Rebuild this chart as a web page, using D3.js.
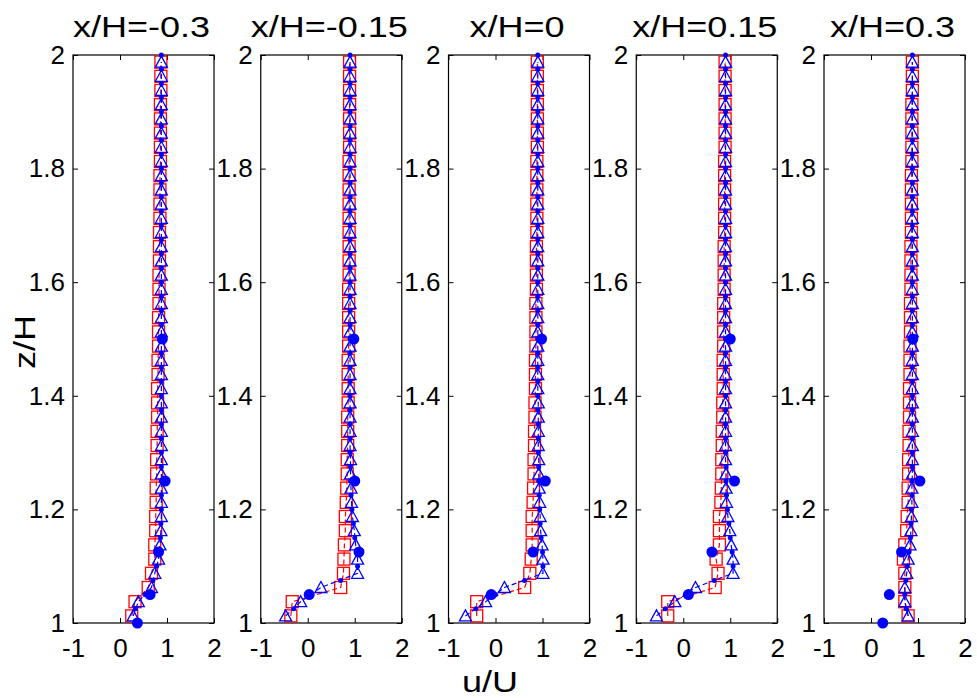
<!DOCTYPE html>
<html>
<head>
<meta charset="utf-8">
<script src="https://cdn.jsdelivr.net/npm/d3@7"></script>
<style>
  body { margin: 0; background: #fff; }
  svg { display: block; font-family: "Liberation Sans", Arial, sans-serif; }
</style>
</head>
<body>
<svg id="chart" width="977" height="698"></svg>
<script>
// panel titles
const titles = ["x/H=-0.3", "x/H=-0.15", "x/H=0", "x/H=0.15", "x/H=0.3"];

// z levels of the simulated profiles (squares / triangles)
const zSim = [1.0125, 1.0375, 1.0625, 1.0875, 1.1125, 1.1375, 1.1625, 1.1875, 1.2125, 1.2375,
              1.2625, 1.2875, 1.3125, 1.3375, 1.3625, 1.3875, 1.4125, 1.4375, 1.4625, 1.4875,
              1.5125, 1.5375, 1.5625, 1.5875, 1.6125, 1.6375, 1.6625, 1.6875, 1.7125, 1.7375,
              1.7625, 1.7875, 1.8125, 1.8375, 1.8625, 1.8875, 1.9125, 1.9375, 1.9625, 1.9875];
// z levels of the fine (dot) profile
const zFine = [1.025, 1.05, 1.075, 1.1, 1.125, 1.15, 1.175, 1.2, 1.225, 1.25,
               1.275, 1.3, 1.325, 1.35, 1.375, 1.4, 1.425, 1.45, 1.475, 1.5,
               1.525, 1.55, 1.575, 1.6, 1.625, 1.65, 1.675, 1.7, 1.725, 1.75,
               1.775, 1.8, 1.825, 1.85, 1.875, 1.9, 1.925, 1.95, 1.975, 2.0];
// z levels of the measurements (filled circles)
const zExp = [1.0, 1.05, 1.125, 1.25, 1.5];

// red squares, u/U
const sqM030 = [0.25, 0.32, 0.60, 0.67, 0.74, 0.74, 0.76, 0.76, 0.77, 0.77,
                0.78, 0.78, 0.79, 0.79, 0.80, 0.80, 0.80, 0.81, 0.81, 0.82,
                0.82, 0.82, 0.83, 0.83, 0.83, 0.84, 0.84, 0.84, 0.85, 0.85,
                0.85, 0.85, 0.86, 0.86, 0.86, 0.86, 0.86, 0.87, 0.87, 0.87];
const sqM015 = [-0.36, -0.33, 0.70, 0.76, 0.77, 0.78, 0.80, 0.80, 0.82, 0.83,
                0.84, 0.84, 0.85, 0.85, 0.85, 0.86, 0.86, 0.86, 0.86, 0.87,
                0.87, 0.87, 0.87, 0.87, 0.88, 0.88, 0.88, 0.88, 0.88, 0.88,
                0.88, 0.88, 0.88, 0.89, 0.89, 0.89, 0.89, 0.89, 0.89, 0.89];
const sqP000 = [-0.40, -0.40, 0.62, 0.73, 0.76, 0.78, 0.78, 0.78, 0.80, 0.81,
                0.82, 0.82, 0.83, 0.83, 0.84, 0.84, 0.85, 0.85, 0.85, 0.86,
                0.86, 0.86, 0.86, 0.87, 0.87, 0.87, 0.87, 0.88, 0.88, 0.88,
                0.88, 0.88, 0.88, 0.89, 0.89, 0.89, 0.89, 0.89, 0.89, 0.89];
const sqP015 = [-0.33, -0.33, 0.68, 0.74, 0.70, 0.77, 0.77, 0.77, 0.80, 0.81,
                0.82, 0.82, 0.83, 0.83, 0.84, 0.84, 0.85, 0.85, 0.85, 0.86,
                0.86, 0.86, 0.86, 0.87, 0.87, 0.87, 0.87, 0.88, 0.88, 0.88,
                0.88, 0.88, 0.88, 0.89, 0.89, 0.89, 0.89, 0.89, 0.89, 0.89];
const sqP030 = [0.79, 0.72, 0.72, 0.72, 0.69, 0.72, 0.76, 0.77, 0.79, 0.79,
                0.80, 0.80, 0.81, 0.81, 0.82, 0.82, 0.82, 0.83, 0.83, 0.83,
                0.84, 0.84, 0.84, 0.85, 0.85, 0.85, 0.85, 0.86, 0.86, 0.86,
                0.86, 0.86, 0.87, 0.87, 0.87, 0.87, 0.87, 0.88, 0.88, 0.88];

// blue triangles, u/U
const triM030 = [0.28, 0.39, 0.67, 0.74, 0.82, 0.85, 0.87, 0.88, 0.88, 0.88,
                 0.88, 0.88, 0.88, 0.88, 0.88, 0.88, 0.88, 0.88, 0.88, 0.88,
                 0.88, 0.88, 0.88, 0.88, 0.88, 0.88, 0.88, 0.88, 0.88, 0.88,
                 0.88, 0.88, 0.88, 0.88, 0.88, 0.88, 0.88, 0.88, 0.88, 0.88];
const triM015 = [-0.47, -0.15, 0.28, 1.06, 1.06, 1.02, 0.99, 0.95, 0.93, 0.92,
                 0.91, 0.91, 0.90, 0.90, 0.90, 0.90, 0.90, 0.90, 0.90, 0.90,
                 0.90, 0.90, 0.90, 0.90, 0.90, 0.90, 0.90, 0.90, 0.90, 0.90,
                 0.90, 0.90, 0.90, 0.90, 0.90, 0.90, 0.90, 0.90, 0.90, 0.90];
const triP000 = [-0.64, -0.21, 0.19, 1.01, 1.01, 0.99, 0.96, 0.95, 0.94, 0.93,
                 0.92, 0.92, 0.91, 0.91, 0.91, 0.91, 0.90, 0.90, 0.90, 0.90,
                 0.90, 0.90, 0.90, 0.90, 0.90, 0.90, 0.90, 0.90, 0.90, 0.90,
                 0.90, 0.90, 0.90, 0.90, 0.90, 0.90, 0.90, 0.90, 0.90, 0.90];
const triP015 = [-0.57, -0.18, 0.26, 1.06, 1.06, 1.02, 0.99, 0.95, 0.92, 0.91,
                 0.91, 0.90, 0.90, 0.90, 0.90, 0.90, 0.90, 0.90, 0.90, 0.90,
                 0.90, 0.90, 0.90, 0.90, 0.90, 0.90, 0.90, 0.90, 0.90, 0.90,
                 0.90, 0.90, 0.90, 0.90, 0.90, 0.90, 0.90, 0.90, 0.90, 0.90];
const triP030 = [0.79, 0.72, 0.72, 0.76, 0.79, 0.83, 0.85, 0.86, 0.87, 0.87,
                 0.88, 0.88, 0.88, 0.88, 0.88, 0.88, 0.88, 0.88, 0.88, 0.88,
                 0.88, 0.88, 0.88, 0.88, 0.88, 0.88, 0.88, 0.88, 0.88, 0.88,
                 0.88, 0.88, 0.88, 0.88, 0.88, 0.88, 0.88, 0.88, 0.88, 0.88];

// small blue dots, u/U
const dotM030 = [0.33, 0.53, 0.70, 0.78, 0.83, 0.86, 0.87, 0.88, 0.88, 0.88,
                 0.88, 0.88, 0.88, 0.88, 0.88, 0.88, 0.88, 0.88, 0.88, 0.88,
                 0.88, 0.88, 0.88, 0.88, 0.88, 0.88, 0.88, 0.88, 0.88, 0.88,
                 0.88, 0.88, 0.88, 0.88, 0.88, 0.88, 0.88, 0.88, 0.88, 0.88];
const dotM015 = [-0.30, 0.08, 0.70, 1.06, 1.04, 1.00, 0.97, 0.94, 0.92, 0.91,
                 0.91, 0.90, 0.90, 0.90, 0.90, 0.90, 0.90, 0.90, 0.90, 0.90,
                 0.90, 0.90, 0.90, 0.90, 0.90, 0.90, 0.90, 0.90, 0.90, 0.90,
                 0.90, 0.90, 0.90, 0.90, 0.90, 0.90, 0.90, 0.90, 0.90, 0.90];
const dotP000 = [-0.42, 0.00, 0.62, 1.01, 1.00, 0.97, 0.95, 0.94, 0.93, 0.92,
                 0.92, 0.91, 0.91, 0.91, 0.90, 0.90, 0.90, 0.90, 0.90, 0.90,
                 0.90, 0.90, 0.90, 0.90, 0.90, 0.90, 0.90, 0.90, 0.90, 0.90,
                 0.90, 0.90, 0.90, 0.90, 0.90, 0.90, 0.90, 0.90, 0.90, 0.90];
const dotP015 = [-0.38, 0.05, 0.66, 1.06, 1.04, 1.00, 0.97, 0.94, 0.92, 0.91,
                 0.91, 0.90, 0.90, 0.90, 0.90, 0.90, 0.90, 0.90, 0.90, 0.90,
                 0.90, 0.90, 0.90, 0.90, 0.90, 0.90, 0.90, 0.90, 0.90, 0.90,
                 0.90, 0.90, 0.90, 0.90, 0.90, 0.90, 0.90, 0.90, 0.90, 0.90];
const dotP030 = [0.75, 0.72, 0.74, 0.77, 0.81, 0.84, 0.85, 0.86, 0.87, 0.87,
                 0.88, 0.88, 0.88, 0.88, 0.88, 0.88, 0.88, 0.88, 0.88, 0.88,
                 0.88, 0.88, 0.88, 0.88, 0.88, 0.88, 0.88, 0.88, 0.88, 0.88,
                 0.88, 0.88, 0.88, 0.88, 0.88, 0.88, 0.88, 0.88, 0.88, 0.88];

// filled circles (measurements), u/U; null = not shown
const expM030 = [0.37, 0.64, 0.82, 0.96, 0.90];
const expM015 = [null, 0.03, 1.09, 1.00, 0.98];
const expP000 = [null, -0.09, 0.80, 1.06, 0.98];
const expP015 = [null, 0.11, 0.61, 1.09, 1.00];
const expP030 = [0.25, 0.39, 0.65, 1.04, 0.89];

const xTicks = [-1, 0, 1, 2];
const yTicks = [1, 1.2, 1.4, 1.6, 1.8, 2];

const panels = titles.map((t, i) => ({
    title: t,
    sq: [sqM030, sqM015, sqP000, sqP015, sqP030][i],
    tri: [triM030, triM015, triP000, triP015, triP030][i],
    dot: [dotM030, dotM015, dotP000, dotP015, dotP030][i],
    exp: [expM030, expM015, expP000, expP015, expP030][i]
}));

const svg = d3.select("#chart");
const topY = 55, bottomY = 623, pw = 141;
const lefts = d3.scalePoint().domain(d3.range(5)).range([73, 824]);

const x = d3.scaleLinear().domain([-1, 2]).range([0, pw]);
const y = d3.scaleLinear().domain([1, 2]).range([bottomY - topY, 0]);

const tri = "M0,-6L6,5L-6,5Z";

panels.forEach((p, i) => {
    const g = svg.append("g").attr("transform", `translate(${lefts(i)},${topY})`);
    const h = bottomY - topY;

    g.append("rect")
        .attr("width", pw).attr("height", h)
        .attr("fill", "none").attr("stroke", "#000").attr("stroke-width", 1.2);

    const ax = (axis, tx, ty, labels) => {
        const a = g.append("g").attr("transform", `translate(${tx},${ty})`).call(axis);
        a.select(".domain").remove();
        a.selectAll(".tick line").attr("stroke", "#000");
        a.selectAll("text").attr("fill", "#000").style("font-size", "26px");
        if (!labels) a.selectAll("text").remove();
        return a;
    };
    ax(d3.axisLeft(y).tickValues(yTicks).tickSize(-5).tickPadding(8).tickFormat(String), 0, 0, true);
    ax(d3.axisRight(y).tickValues(yTicks).tickSize(-5), pw, 0, false);
    ax(d3.axisBottom(x).tickValues(xTicks).tickSize(-5).tickPadding(16).tickFormat(String), 0, h, true);
    ax(d3.axisTop(x).tickValues(xTicks).tickSize(-5), 0, 0, false);

    const sqPts = zSim.map((z, k) => [p.sq[k], z]);
    const triPts = zSim.map((z, k) => [p.tri[k], z]);
    const dotPts = zFine.map((z, k) => [p.dot[k], z]);
    const expPts = zExp.map((z, k) => [p.exp[k], z]).filter(d => d[0] !== null);

    const line = d3.line().x(d => x(d[0])).y(d => y(d[1]));

    // red squares + dashed line
    g.append("path").attr("d", line(sqPts))
        .attr("fill", "none").attr("stroke", "#ff0000").attr("stroke-width", 1.2)
        .attr("stroke-dasharray", "5,3");
    g.append("g").selectAll("rect").data(sqPts).join("rect")
        .attr("x", d => x(d[0]) - 6).attr("y", d => y(d[1]) - 6)
        .attr("width", 12).attr("height", 12)
        .attr("fill", "none").attr("stroke", "#ff0000").attr("stroke-width", 1.3);

    // blue triangles + dashed line
    g.append("path").attr("d", line(triPts))
        .attr("fill", "none").attr("stroke", "#0000ff").attr("stroke-width", 1.2)
        .attr("stroke-dasharray", "5,3");
    g.append("g").selectAll("path").data(triPts).join("path")
        .attr("d", tri)
        .attr("transform", d => `translate(${x(d[0])},${y(d[1])})`)
        .attr("fill", "none").attr("stroke", "#0000ff").attr("stroke-width", 1.3);

    // small dots
    g.append("g").selectAll("circle").data(dotPts).join("circle")
        .attr("cx", d => x(d[0])).attr("cy", d => y(d[1])).attr("r", 2.5)
        .attr("fill", "#0000ff");

    // measurements
    g.append("g").selectAll("circle").data(expPts).join("circle")
        .attr("cx", d => x(d[0])).attr("cy", d => y(d[1])).attr("r", 5.5)
        .attr("fill", "#0000ff");

    // title
    g.append("text")
        .attr("transform", `translate(${pw / 2 - 2},${36.5 - topY}) scale(1.2,1)`)
        .attr("text-anchor", "middle")
        .style("font-size", "30px")
        .text(p.title);
});

svg.append("text")
    .attr("transform", "translate(35,342) rotate(-90) scale(1.2,1)")
    .attr("text-anchor", "middle")
    .style("font-size", "30px")
    .text("z/H");

svg.append("text")
    .attr("transform", "translate(490,692) scale(1.2,1)")
    .attr("text-anchor", "middle")
    .style("font-size", "30px")
    .text("u/U");
</script>
</body>
</html>
